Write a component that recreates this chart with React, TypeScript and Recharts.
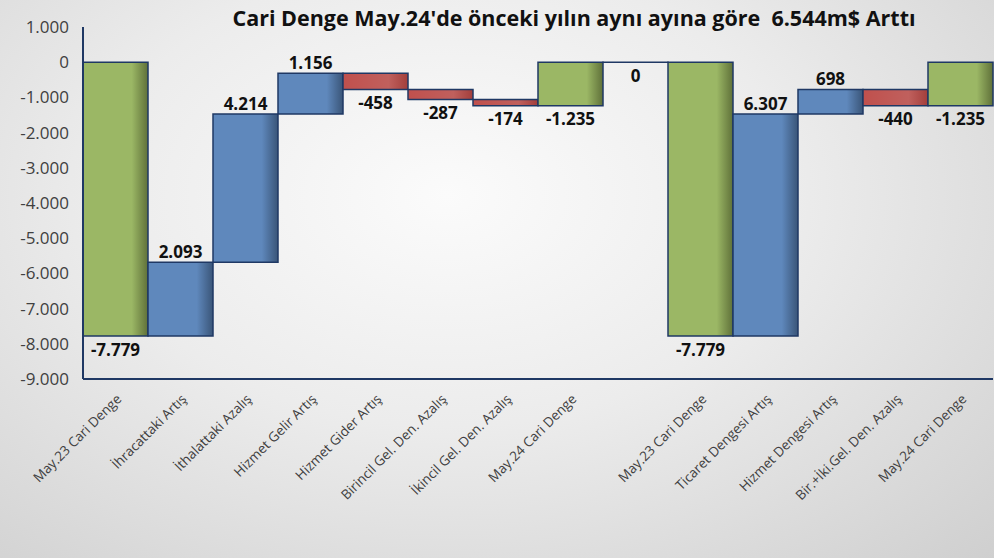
import React from 'react';
import { BarChart, Bar, XAxis, YAxis, Cell, LabelList } from 'recharts';

const categories = [
  'May.23 Cari Denge',
  'İhracattaki Artış',
  'İthalattaki Azalış',
  'Hizmet Gelir Artış',
  'Hizmet Gider Artış',
  'Birincil Gel. Den. Azalış',
  'İkincil Gel. Den. Azalış',
  'May.24 Cari Denge',
  '',
  'May.23 Cari Denge',
  'Ticaret Dengesi Artış',
  'Hizmet Dengesi Artış',
  'Bir.+İki.Gel. Den. Azalış',
  'May.24 Cari Denge',
];
// value shown per category
const values = [-7779, 2093, 4214, 1156, -458, -287, -174, -1235, 0, -7779, 6307, 698, -440, -1235];
// 'total' bars start at zero; 'delta' bars float on the running total
const kinds = ['total', 'delta', 'delta', 'delta', 'delta', 'delta', 'delta', 'total', 'gap', 'total', 'delta', 'delta', 'delta', 'total'];
const yTicks = [1000, 0, -1000, -2000, -3000, -4000, -5000, -6000, -7000, -8000, -9000];

const fmt = (v: number) => {
  const s = Math.abs(Math.round(v)).toString().replace(/\B(?=(\d{3})+(?!\d))/g, '.');
  return (v < 0 ? '-' : '') + s;
};

let running = 0;
const data = categories.map((name, i) => {
  const v = values[i];
  let low = 0, high = 0;
  if (kinds[i] === 'total') {
    running = v;
    low = Math.min(0, v); high = Math.max(0, v);
  } else if (kinds[i] === 'gap') {
    running = 0; low = -0.5; high = 0; // zero-height step drawn as a line
  } else {
    const start = running;
    const end = i === 12 ? values[13] : running + v;
    low = Math.min(start, end); high = Math.max(start, end);
    running = end;
  }
  return { name, range: [low, high], value: v, kind: kinds[i] };
});

const fillFor = (d: any) => {
  if (d.kind === 'total') return 'url(#gGreen)';
  if (d.kind === 'gap') return 'none';
  return d.value >= 0 ? 'url(#gBlue)' : 'url(#gRed)';
};

const XTick = (props: any) => {
  const { x, y, payload } = props;
  return (
    <g transform={`translate(${x + 4},${y + 10})`}>
      <text transform="rotate(-45)" textAnchor="end" fontSize={13.5} fill="#404040" fontFamily="'Open Sans', sans-serif" dy={4}>
        {payload.value}
      </text>
    </g>
  );
};

const ValueLabel = (props: any) => {
  const { x, y, width, height, value } = props;
  const above = value > 0;
  const cx = x + width / 2;
  const ty = above ? y - 11 : y + height + 13;
  return (
    <text x={cx} y={ty} textAnchor="middle" dominantBaseline="central" fontSize={17} fontWeight="bold" fill="#111" fontFamily="'Open Sans', sans-serif">
      {fmt(value)}
    </text>
  );
};

export default function App() {
  return (
    <div style={{ position: 'absolute', left: 0, top: 0, width: 994, height: 558, background: 'radial-gradient(ellipse at 45% 35%, #fbfbfb 0%, #ececec 45%, #cfcfcf 100%)' }}>
      <div style={{ position: 'absolute', left: 174, top: 3, width: 800, textAlign: 'center', fontFamily: "'Open Sans', sans-serif", fontWeight: 'bold', fontSize: 21.5, color: '#111', whiteSpace: 'pre' }}>
        {"Cari Denge May.24'de önceki yılın aynı ayına göre  6.544m$ Arttı"}
      </div>
      <BarChart width={994} height={558} data={data} margin={{ top: 27, right: 1, bottom: 0, left: 0 }} barCategoryGap={0}>
        <defs>
          <linearGradient id="gGreen" x1="0" y1="0" x2="1" y2="0">
            <stop offset="0%" stopColor="#9bb765" />
            <stop offset="75%" stopColor="#9bb765" />
            <stop offset="100%" stopColor="#5f7039" />
          </linearGradient>
          <linearGradient id="gBlue" x1="0" y1="0" x2="1" y2="0">
            <stop offset="0%" stopColor="#5f88bc" />
            <stop offset="75%" stopColor="#5f88bc" />
            <stop offset="100%" stopColor="#3a5578" />
          </linearGradient>
          <linearGradient id="gRed" x1="0" y1="0" x2="1" y2="0">
            <stop offset="0%" stopColor="#c0504d" />
            <stop offset="70%" stopColor="#c0605d" />
            <stop offset="100%" stopColor="#a23e3b" />
          </linearGradient>
        </defs>
        <XAxis dataKey="name" interval={0} height={179} tick={<XTick />} tickLine={false} axisLine={{ stroke: '#1f3864', strokeWidth: 2 }} />
        <YAxis domain={[-9000, 1000]} ticks={yTicks} width={83} tickFormatter={fmt} tickLine={false} axisLine={{ stroke: '#1f3864', strokeWidth: 2 }} tick={{ fontSize: 17, fill: '#404040', fontFamily: "'Open Sans', sans-serif" }} tickMargin={8} interval={0} />
        <Bar dataKey="range" isAnimationActive={false} stroke="#1f3864" strokeWidth={1.5}>
          {data.map((d, i) => (
            <Cell key={i} fill={fillFor(d)} />
          ))}
          <LabelList dataKey="value" content={<ValueLabel />} />
        </Bar>
      </BarChart>
    </div>
  );
}
